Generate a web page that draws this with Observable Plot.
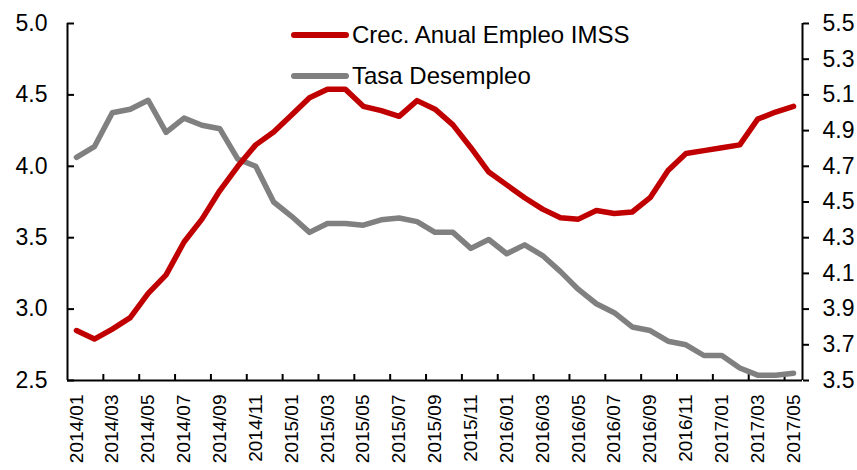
<!DOCTYPE html>
<html>
<head>
<meta charset="utf-8">
<script src="https://cdn.jsdelivr.net/npm/d3@7"></script>
<script src="https://cdn.jsdelivr.net/npm/@observablehq/plot@0.6"></script>
<style>
  html, body { margin: 0; padding: 0; background: #fff; }
  #chart { position: relative; width: 857px; height: 470px; overflow: hidden; }
</style>
</head>
<body>
<div id="chart"></div>
<script>
const months = ["2014/01","2014/02","2014/03","2014/04","2014/05","2014/06","2014/07","2014/08","2014/09","2014/10","2014/11","2014/12",
  "2015/01","2015/02","2015/03","2015/04","2015/05","2015/06","2015/07","2015/08","2015/09","2015/10","2015/11","2015/12",
  "2016/01","2016/02","2016/03","2016/04","2016/05","2016/06","2016/07","2016/08","2016/09","2016/10","2016/11","2016/12",
  "2017/01","2017/02","2017/03","2017/04","2017/05"];

const empleoIMSS = [2.85, 2.79, 2.86, 2.94, 3.11, 3.24, 3.47, 3.63, 3.83, 4.00, 4.15, 4.24,
  4.36, 4.48, 4.54, 4.54, 4.42, 4.39, 4.35, 4.46, 4.40, 4.29, 4.13, 3.96,
  3.87, 3.78, 3.70, 3.64, 3.63, 3.69, 3.67, 3.68, 3.78, 3.97, 4.09, 4.11,
  4.13, 4.15, 4.33, 4.38, 4.42];

const desempleo = [4.75, 4.81, 5.00, 5.02, 5.07, 4.89, 4.97, 4.93, 4.91, 4.74, 4.70, 4.50,
  4.42, 4.33, 4.38, 4.38, 4.37, 4.40, 4.41, 4.39, 4.33, 4.33, 4.24, 4.29,
  4.21, 4.26, 4.20, 4.11, 4.01, 3.93, 3.88, 3.80, 3.78, 3.72, 3.70, 3.64,
  3.64, 3.57, 3.53, 3.53, 3.54];

const leftTicks = [2.5, 3.0, 3.5, 4.0, 4.5, 5.0];
const rightTicks = [3.5, 3.7, 3.9, 4.1, 4.3, 4.5, 4.7, 4.9, 5.1, 5.3, 5.5];
const seriesNames = ["Crec. Anual Empleo IMSS", "Tasa Desempleo"];
const seriesColors = ["#C00000", "#808080"];

// map right-axis values onto the left-axis domain
const leftDomain = [2.5, 5.0], rightDomain = [3.5, 5.5];
const toLeft = v => leftDomain[0] + (v - rightDomain[0]) * (leftDomain[1] - leftDomain[0]) / (rightDomain[1] - rightDomain[0]);
const toRight = v => rightDomain[0] + (v - leftDomain[0]) * (rightDomain[1] - rightDomain[0]) / (leftDomain[1] - leftDomain[0]);

const redData = months.map((m, i) => ({i, m, v: empleoIMSS[i]}));
const greyData = months.map((m, i) => ({i, m, v: toLeft(desempleo[i])}));

const labelIdx = months.map((m, i) => i).filter(i => i % 2 === 0);
const tickIdx = months.map((m, i) => i).filter(i => i % 2 === 0 && i > 0).map(i => i - 0.5);

const fmt = d3.format(".1f");

const plot = Plot.plot({
  width: 857,
  height: 470,
  marginLeft: 67,
  marginRight: 55,
  marginTop: 23,
  marginBottom: 90,
  style: {fontFamily: "'Liberation Sans', Arial, sans-serif", fontSize: "23px", color: "#000", background: "#fff"},
  x: {type: "linear", domain: [-0.5, months.length - 0.5]},
  y: {domain: leftDomain},
  marks: [
    // axis frame lines
    Plot.ruleY([leftDomain[0]], {stroke: "#000", strokeWidth: 2}),
    Plot.ruleX([-0.5], {stroke: "#000", strokeWidth: 2}),
    Plot.ruleX([months.length - 0.5], {stroke: "#000", strokeWidth: 2}),
    // left axis: inward ticks + labels
    Plot.axisY({anchor: "left", ticks: leftTicks, tickSize: -7, fill: "none", strokeWidth: 2, label: null}),
    Plot.axisY({anchor: "left", ticks: leftTicks, tickSize: 0, tickPadding: 20, tickFormat: fmt, label: null, fontSize: 23}),
    // right axis
    Plot.axisY({anchor: "right", ticks: rightTicks.map(toLeft), tickSize: 6, strokeWidth: 2, tickPadding: 14,
      tickFormat: d => fmt(toRight(d)), label: null, fontSize: 23}),
    // x axis ticks (between categories) and labels
    Plot.axisX({ticks: tickIdx, tickSize: -6, fill: "none", strokeWidth: 2, label: null}),
    Plot.axisX({ticks: labelIdx, tickSize: 0, tickPadding: 14, rotate: -90, textAnchor: "end", lineAnchor: "middle",
      tickFormat: i => months[i], label: null, fontSize: 19}),
    // series
    Plot.line(greyData, {x: "i", y: "v", stroke: seriesColors[1], strokeWidth: 5.5, strokeLinejoin: "round", strokeLinecap: "round"}),
    Plot.line(redData, {x: "i", y: "v", stroke: seriesColors[0], strokeWidth: 5.5, strokeLinejoin: "round", strokeLinecap: "round"})
  ]
});

document.getElementById("chart").appendChild(plot);

// legend inside the plot area
const svg = d3.select(plot);
const legend = svg.append("g").attr("class", "legend").attr("text-anchor", "start");
seriesNames.forEach((name, k) => {
  const y = 35 + k * 41;
  legend.append("line").attr("x1", 294).attr("x2", 346).attr("y1", y).attr("y2", y)
    .attr("stroke", seriesColors[k]).attr("stroke-width", 6).attr("stroke-linecap", "round");
  legend.append("text").attr("x", 352).attr("y", y).attr("dy", "0.35em")
    .attr("text-anchor", "start")
    .attr("font-size", 24).attr("fill", "#000")
    .attr("font-family", "'Liberation Sans', Arial, sans-serif").text(name);
});
</script>
</body>
</html>
